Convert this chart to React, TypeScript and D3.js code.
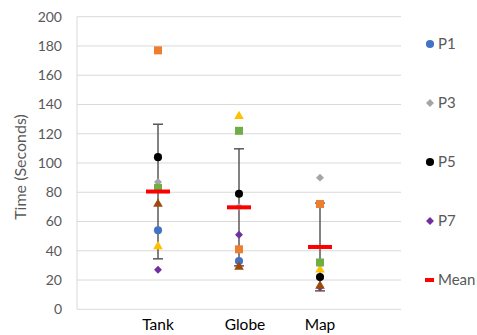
import React, { useEffect, useRef } from "react";
import * as d3 from "d3";

const categories = ["Tank", "Globe", "Map"];
const seriesNames = ["P1", "P2", "P3", "P4", "P5", "P6", "P7", "P8"];
const p1 = [54, 33, null];
const p2 = [177, 41, 72];
const p3 = [87, 70, 90];
const p4 = [43, 132, 27];
const p5 = [104, 79, 22];
const p6 = [83, 122, 32];
const p7 = [27, 51, 15];
const p8 = [72, 29, 16];
const means = [80.5, 69.7, 42.6];
const errors = [46, 40, 30];
const yTicks = [0, 20, 40, 60, 80, 100, 120, 140, 160, 180, 200];
const legendItems = ["P1", "P3", "P5", "P7", "Mean"];

const App = () => {
  const ref = useRef<SVGSVGElement>(null);

  useEffect(() => {
    const width = 477;
    const height = 335;
    const font = "Lato, 'Noto Sans', sans-serif";
    const svg = d3.select(ref.current);
    svg.selectAll("*").remove();
    svg.attr("width", width).attr("height", height);

    const x = d3.scaleLinear().domain([0, 4]).range([77, 401]);
    const y = d3.scaleLinear().domain([0, 200]).range([309.3, 16.7]);

    // gridlines
    svg
      .append("g")
      .selectAll("line")
      .data(yTicks)
      .enter()
      .append("line")
      .attr("x1", x(0))
      .attr("x2", x(4))
      .attr("y1", (d) => y(d))
      .attr("y2", (d) => y(d))
      .attr("stroke", "#d9d9d9")
      .attr("stroke-width", 1);

    // left axis line
    svg
      .append("line")
      .attr("x1", x(0))
      .attr("x2", x(0))
      .attr("y1", y(0))
      .attr("y2", y(200))
      .attr("stroke", "#d9d9d9");

    // y tick labels
    svg
      .append("g")
      .selectAll("text")
      .data(yTicks)
      .enter()
      .append("text")
      .attr("x", 62)
      .attr("y", (d) => y(d))
      .attr("dy", "0.35em")
      .attr("text-anchor", "end")
      .attr("font-family", font)
      .attr("font-size", 14)
      .attr("fill", "#595959")
      .text((d) => d);

    // y title
    svg
      .append("text")
      .attr("transform", "translate(26,167) rotate(-90)")
      .attr("text-anchor", "middle")
      .attr("font-family", font)
      .attr("font-size", 16)
      .attr("fill", "#595959")
      .text("Time (Seconds)");

    // x labels
    svg
      .append("g")
      .selectAll("text")
      .data(categories)
      .enter()
      .append("text")
      .attr("x", (d, i) => x(i + 1) + (i === 1 ? 6 : 0))
      .attr("y", 330)
      .attr("text-anchor", "middle")
      .attr("font-family", font)
      .attr("font-size", 15.5)
      .attr("fill", "#000")
      .text((d) => d);

    // error bars
    const eb = svg.append("g").attr("stroke", "#595959").attr("stroke-width", 1.5);
    means.forEach((m, i) => {
      const cx = x(i + 1);
      eb.append("line").attr("x1", cx).attr("x2", cx).attr("y1", y(m + errors[i])).attr("y2", y(m - errors[i]));
      [m + errors[i], m - errors[i]].forEach((v) => {
        eb.append("line").attr("x1", cx - 5).attr("x2", cx + 5).attr("y1", y(v)).attr("y2", y(v));
      });
    });

    const shapes = [
      { type: d3.symbolCircle, size: 52, color: "#4472C4" },
      { type: d3.symbolSquare, size: 64, color: "#ED7D31" },
      { type: d3.symbolDiamond2, size: 40, color: "#A5A5A5" },
      { type: d3.symbolTriangle, size: 40, color: "#FFC000" },
      { type: d3.symbolCircle, size: 52, color: "#000000" },
      { type: d3.symbolSquare, size: 64, color: "#70AD47" },
      { type: d3.symbolDiamond2, size: 40, color: "#7030A0" },
      { type: d3.symbolTriangle, size: 40, color: "#9E480E" },
    ];
    const series = [p1, p2, p3, p4, p5, p6, p7, p8];

    series.forEach((vals, s) => {
      const sh = shapes[s];
      svg
        .append("g")
        .attr("class", seriesNames[s])
        .selectAll("path")
        .data(vals.map((v, i) => ({ v, i })).filter((d) => d.v != null))
        .enter()
        .append("path")
        .attr("d", d3.symbol().type(sh.type).size(sh.size)())
        .attr("transform", (d) => `translate(${x(d.i + 1)},${y(d.v as number)})`)
        .attr("fill", sh.color);
    });

    // mean dashes
    svg
      .append("g")
      .selectAll("rect")
      .data(means)
      .enter()
      .append("rect")
      .attr("x", (d, i) => x(i + 1) - 12)
      .attr("y", (d) => y(d) - 2)
      .attr("width", 24)
      .attr("height", 4)
      .attr("fill", "#FF0000");

    // legend
    const ly = d3.scalePoint().domain(legendItems).range([44, 280]);
    const legendShapes = [shapes[0], shapes[2], shapes[4], shapes[6]];
    const lg = svg.append("g");
    legendItems.forEach((name, i) => {
      const cy = ly(name) as number;
      if (i < legendShapes.length) {
        const sh = legendShapes[i];
        lg.append("path")
          .attr("d", d3.symbol().type(sh.type).size(sh.size)())
          .attr("transform", `translate(430,${cy})`)
          .attr("fill", sh.color);
      } else {
        lg.append("rect").attr("x", 425).attr("y", cy - 2).attr("width", 9).attr("height", 4).attr("fill", "#FF0000");
      }
      lg.append("text")
        .attr("x", 438)
        .attr("y", cy)
        .attr("dy", "0.35em")
        .attr("font-family", font)
        .attr("font-size", 15)
        .attr("fill", "#595959")
        .text(name);
    });
  }, []);

  return (
    <svg ref={ref} style={{ position: "absolute", left: 0, top: 0, background: "#fff" }} />
  );
};

export default App;
